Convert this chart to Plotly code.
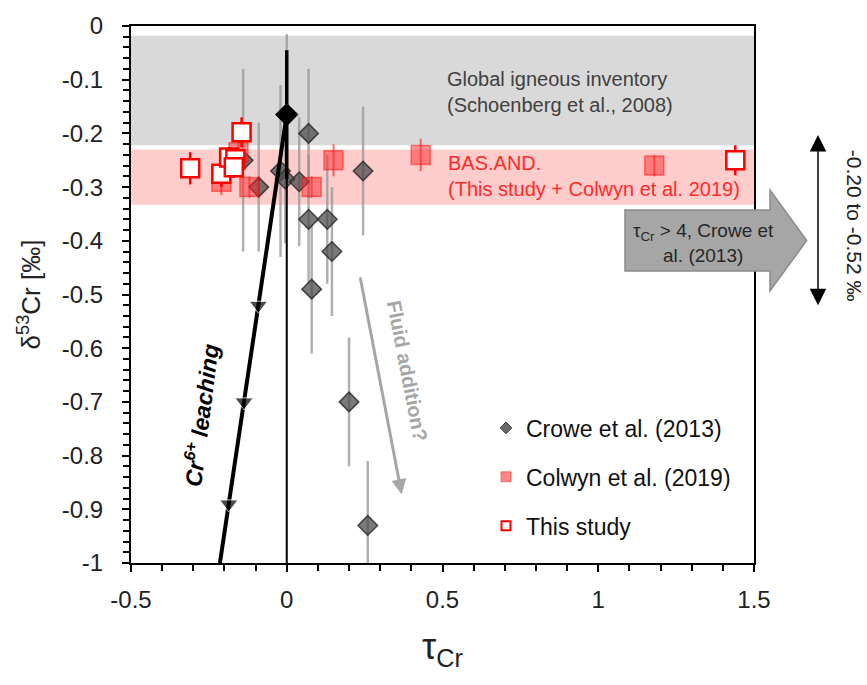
import plotly.graph_objects as go

# ---------------- data ----------------
crowe_x = [-0.14, -0.09, -0.02, -0.005, 0.0, 0.04, 0.07, 0.07, 0.08, 0.13, 0.145, 0.245, 0.20, 0.26]
crowe_y = [-0.25, -0.30, -0.27, -0.285, -0.165, -0.29, -0.20, -0.36, -0.49, -0.36, -0.42, -0.27, -0.70, -0.93]
crowe_err = [0.17, 0.12, 0.16, 0.12, 0.15, 0.12, 0.12, 0.12, 0.12, 0.12, 0.12, 0.12, 0.12, 0.12]

colwyn_x = [-0.21, -0.155, -0.12, 0.08, 0.15, 0.43, 1.18]
colwyn_y = [-0.29, -0.235, -0.30, -0.30, -0.25, -0.24, -0.26]
colwyn_err = [0.025, 0.03, 0.02, 0.02, 0.03, 0.03, 0.02]

study_x = [-0.31, -0.21, -0.185, -0.165, -0.17, -0.145, 1.44]
study_y = [-0.265, -0.275, -0.245, -0.248, -0.263, -0.198, -0.25]
study_err = [0.03, 0.025, 0.02, 0.02, 0.02, 0.028, 0.028]

protolith_x = [0.0]
protolith_y = [-0.165]
protolith_err = [0.12]

leach_x = [0.0, -0.091, -0.137, -0.186, -0.2145]
leach_y = [-0.165, -0.52, -0.70, -0.89, -1.0]
leach_marker = [0, 16, 16, 16, 0]

zero_x = [0.0, 0.0]
zero_y = [-0.165, -1.0]

igneous_band = [-0.018, -0.222]
basand_band = [-0.23, -0.333]
range_arrow = [-0.20, -0.52]
fluid_arrow_x = [0.235, 0.369]
fluid_arrow_y = [-0.4655, -0.872]

x_ticks = [-0.5, 0, 0.5, 1, 1.5]
x_ticktext = ["-0.5", "0", "0.5", "1", "1.5"]
y_ticks = [0, -0.1, -0.2, -0.3, -0.4, -0.5, -0.6, -0.7, -0.8, -0.9, -1]
y_ticktext = ["0", "-0.1", "-0.2", "-0.3", "-0.4", "-0.5", "-0.6", "-0.7", "-0.8", "-0.9", "-1"]

# ---------------- layout helpers ----------------
W, H = 867, 685
ML, MR, MT, MB = 131, 113, 21, 122
PW, PH = W - ML - MR, H - MT - MB
FONT = "Liberation Sans, Arial, sans-serif"


def pp(px, py):
    return (px - ML) / PW, 1 - (py - MT) / PH


fig = go.Figure()

# Crowe et al. (2013)
fig.add_trace(go.Scatter(
    x=crowe_x, y=crowe_y, mode="markers", showlegend=False,
    error_y=dict(type="data", array=crowe_err, color="rgba(150,150,150,0.75)", thickness=2.5, width=0),
    marker=dict(symbol="diamond", size=15, color="rgba(70,70,70,0.72)",
                line=dict(color="rgba(45,45,45,0.85)", width=1.5)),
))
# Colwyn et al. (2019)
fig.add_trace(go.Scatter(
    x=colwyn_x, y=colwyn_y, mode="markers", showlegend=False,
    error_y=dict(type="data", array=colwyn_err, color="rgba(255,0,0,0.55)", thickness=2, width=0),
    marker=dict(symbol="square", size=19, color="rgba(255,40,40,0.5)",
                line=dict(color="rgba(255,0,0,0.45)", width=1.5)),
))
# zero line and leaching trend
fig.add_trace(go.Scatter(x=zero_x, y=zero_y, mode="lines", showlegend=False,
                         line=dict(color="black", width=2)))
fig.add_trace(go.Scatter(
    x=protolith_x, y=protolith_y, mode="markers", showlegend=False,
    error_y=dict(type="data", array=protolith_err, color="black", thickness=3.5, width=0),
    marker=dict(symbol="diamond", size=18, color="black"),
))
fig.add_trace(go.Scatter(
    x=leach_x, y=leach_y, mode="lines+markers", showlegend=False,
    line=dict(color="black", width=4),
    marker=dict(symbol="triangle-down", size=leach_marker, color="black"),
))
# This study
fig.add_trace(go.Scatter(
    x=study_x, y=study_y, mode="markers", showlegend=False,
    error_y=dict(type="data", array=study_err, color="#ff0000", thickness=2.5, width=0),
    marker=dict(symbol="square", size=18, color="white", line=dict(color="#ff0000", width=2.5)),
))

# legend-only entries
fig.add_trace(go.Scatter(x=[None], y=[None], mode="markers", name="Crowe et al. (2013)",
                         legendgroup="a",
                         marker=dict(symbol="diamond", size=9, color="rgba(70,70,70,0.8)",
                                     line=dict(color="rgba(45,45,45,0.9)", width=1))))
fig.add_trace(go.Scatter(x=[None], y=[None], mode="markers", name="Colwyn et al. (2019)",
                         legendgroup="b",
                         marker=dict(symbol="square", size=10, color="rgba(255,40,40,0.55)",
                                     line=dict(color="rgba(255,0,0,0.45)", width=1))))
fig.add_trace(go.Scatter(x=[None], y=[None], mode="markers", name="This study",
                         legendgroup="c",
                         marker=dict(symbol="square", size=9, color="white",
                                     line=dict(color="#ff0000", width=2))))

shapes = [
    dict(type="rect", xref="paper", yref="y", x0=0, x1=1, y0=igneous_band[0], y1=igneous_band[1],
         fillcolor="#d9d9d9", line=dict(width=0), layer="below"),
    dict(type="rect", xref="paper", yref="y", x0=0, x1=1, y0=basand_band[0], y1=basand_band[1],
         fillcolor="#ffcccc", line=dict(width=0), layer="below"),
]
# block arrow (tau_Cr > 4)
pts = [(625, 206.7), (770, 206.7), (770, 186.7), (806.7, 237.5), (770, 288.3), (770, 268.3), (625, 268.3)]
path = "M " + " L ".join(f"{pp(a, b)[0]:.4f},{pp(a, b)[1]:.4f}" for a, b in pts) + " Z"
shapes.append(dict(type="path", xref="paper", yref="paper", path=path, fillcolor="#a6a6a6",
                   line=dict(color="#8c8c8c", width=1.5), layer="above"))

annotations = [
    dict(x=0.508, y=-0.122, xref="x", yref="y", xanchor="left", yanchor="middle", align="left",
         showarrow=False, text="Global igneous inventory<br>(Schoenberg et al., 2008)",
         font=dict(family=FONT, size=20, color="#404040")),
    dict(x=0.512, y=-0.280, xref="x", yref="y", xanchor="left", yanchor="middle", align="left",
         showarrow=False, text="BAS.AND.<br>(This study + Colwyn et al. 2019)",
         font=dict(family=FONT, size=20, color="#ff2a2a")),
    dict(x=pp(703, 240)[0], y=pp(703, 240)[1], xref="paper", yref="paper", showarrow=False,
         xanchor="center", yanchor="middle",
         text="τ<sub>Cr</sub> > 4, Crowe et<br>al. (2013)", align="center",
         font=dict(family=FONT, size=19, color="#262626")),
    # range double arrow
    dict(x=pp(818, 0)[0], y=range_arrow[1], xref="paper", yref="y",
         ax=0, ay=range_arrow[0], axref="pixel", ayref="y", text="", showarrow=True,
         arrowside="end+start", arrowhead=2, startarrowhead=2, arrowsize=2.2, startarrowsize=2.2,
         arrowwidth=1.5, arrowcolor="black", standoff=0, startstandoff=0),
    dict(x=pp(854, 0)[0], y=-0.372, xref="paper", yref="y", showarrow=False, textangle=90,
         xanchor="center", yanchor="middle",
         text="-0.20 to -0.52 ‰", font=dict(family=FONT, size=21, color="#222")),
    # fluid addition arrow
    dict(x=fluid_arrow_x[1], y=fluid_arrow_y[1], ax=fluid_arrow_x[0], ay=fluid_arrow_y[0],
         xref="x", yref="y", axref="x", ayref="y", text="", showarrow=True,
         arrowhead=2, arrowsize=1.0, arrowwidth=3, arrowcolor="#a6a6a6", standoff=0),
    dict(x=0.386, y=-0.643, xref="x", yref="y", showarrow=False, textangle=79,
         xanchor="center", yanchor="middle",
         text="<b>Fluid addition?</b>", font=dict(family=FONT, size=20, color="#a6a6a6")),
    dict(x=-0.278, y=-0.724, xref="x", yref="y", showarrow=False, textangle=-82.8,
         xanchor="center", yanchor="middle",
         text="<b><i>Cr<sup>6+</sup> leaching</i></b>", font=dict(family=FONT, size=23, color="black")),
]

fig.update_layout(
    width=W, height=H,
    margin=dict(l=ML, r=MR, t=MT, b=MB, pad=0),
    paper_bgcolor="white", plot_bgcolor="white",
    font=dict(family=FONT, size=20, color="#222"),
    shapes=shapes, annotations=annotations,
    legend=dict(x=pp(486, 0)[0], y=pp(0, 405)[1], xanchor="left", yanchor="top",
                bgcolor="rgba(0,0,0,0)", font=dict(family=FONT, size=23, color="#111"),
                tracegroupgap=16, itemsizing="trace"),
    xaxis=dict(range=[-0.5, 1.5], tickvals=x_ticks, ticktext=x_ticktext,
               showline=True, linecolor="black", linewidth=2, mirror=True,
               ticks="outside", ticklen=7, tickwidth=2, tickcolor="black",
               minor=dict(dtick=0.1, ticks="outside", ticklen=6, tickwidth=2, tickcolor="black"),
               showgrid=False, zeroline=False, ticklabelstandoff=7,
               tickfont=dict(family=FONT, size=24, color="#222"),
               title=dict(text="τ<sub>Cr</sub>", standoff=22, font=dict(family=FONT, size=36, color="#222"))),
    yaxis=dict(range=[-1, 0], tickvals=y_ticks, ticktext=y_ticktext,
               showline=True, linecolor="black", linewidth=2, mirror=True,
               ticks="outside", ticklen=7, tickwidth=2, tickcolor="black",
               minor=dict(dtick=0.02, ticks="outside", ticklen=6, tickwidth=2, tickcolor="black"),
               showgrid=False, zeroline=False, ticklabelstandoff=14,
               tickfont=dict(family=FONT, size=24, color="#222"),
               title=dict(text="δ<sup>53</sup>Cr [‰]", standoff=14, font=dict(family=FONT, size=26, color="#222"))),
)

fig.write_html("out.html")
